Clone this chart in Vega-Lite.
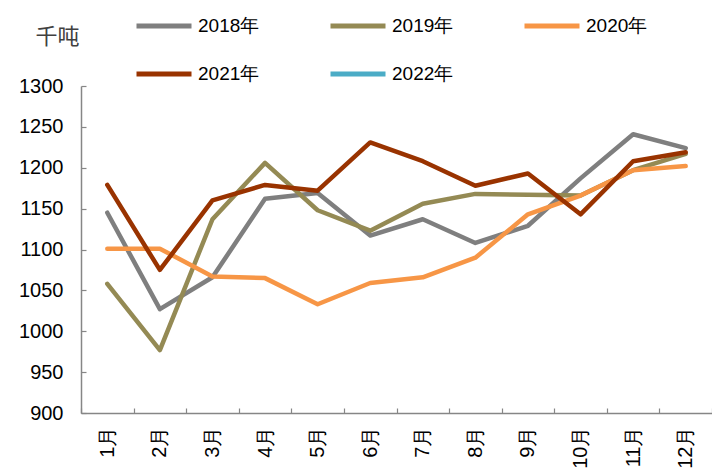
{
  "$schema": "https://vega.github.io/schema/vega-lite/v6.json",
  "width": 631,
  "height": 327,
  "autosize": {"type": "none"},
  "padding": {"left": 81, "top": 86, "right": 0, "bottom": 62},
  "background": "white",
  "config": {
    "view": {"stroke": null},
    "font": "Liberation Sans"
  },
  "data": {
    "values": [
      {"m": "1月", "y": "2018年", "v": 1145},
      {"m": "2月", "y": "2018年", "v": 1027},
      {"m": "3月", "y": "2018年", "v": 1066},
      {"m": "4月", "y": "2018年", "v": 1162},
      {"m": "5月", "y": "2018年", "v": 1169},
      {"m": "6月", "y": "2018年", "v": 1117},
      {"m": "7月", "y": "2018年", "v": 1137},
      {"m": "8月", "y": "2018年", "v": 1108},
      {"m": "9月", "y": "2018年", "v": 1129},
      {"m": "10月", "y": "2018年", "v": 1187},
      {"m": "11月", "y": "2018年", "v": 1241},
      {"m": "12月", "y": "2018年", "v": 1224},
      {"m": "1月", "y": "2019年", "v": 1058},
      {"m": "2月", "y": "2019年", "v": 977},
      {"m": "3月", "y": "2019年", "v": 1137},
      {"m": "4月", "y": "2019年", "v": 1206},
      {"m": "5月", "y": "2019年", "v": 1148},
      {"m": "6月", "y": "2019年", "v": 1123},
      {"m": "7月", "y": "2019年", "v": 1156},
      {"m": "8月", "y": "2019年", "v": 1168},
      {"m": "9月", "y": "2019年", "v": 1167},
      {"m": "10月", "y": "2019年", "v": 1166},
      {"m": "11月", "y": "2019年", "v": 1197},
      {"m": "12月", "y": "2019年", "v": 1217},
      {"m": "1月", "y": "2020年", "v": 1101},
      {"m": "2月", "y": "2020年", "v": 1101},
      {"m": "3月", "y": "2020年", "v": 1067},
      {"m": "4月", "y": "2020年", "v": 1065},
      {"m": "5月", "y": "2020年", "v": 1033},
      {"m": "6月", "y": "2020年", "v": 1059},
      {"m": "7月", "y": "2020年", "v": 1066},
      {"m": "8月", "y": "2020年", "v": 1090},
      {"m": "9月", "y": "2020年", "v": 1143},
      {"m": "10月", "y": "2020年", "v": 1166},
      {"m": "11月", "y": "2020年", "v": 1197},
      {"m": "12月", "y": "2020年", "v": 1202},
      {"m": "1月", "y": "2021年", "v": 1179},
      {"m": "2月", "y": "2021年", "v": 1075},
      {"m": "3月", "y": "2021年", "v": 1160},
      {"m": "4月", "y": "2021年", "v": 1179},
      {"m": "5月", "y": "2021年", "v": 1172},
      {"m": "6月", "y": "2021年", "v": 1231},
      {"m": "7月", "y": "2021年", "v": 1208},
      {"m": "8月", "y": "2021年", "v": 1178},
      {"m": "9月", "y": "2021年", "v": 1193},
      {"m": "10月", "y": "2021年", "v": 1143},
      {"m": "11月", "y": "2021年", "v": 1208},
      {"m": "12月", "y": "2021年", "v": 1219}
    ]
  },
  "mark": {"type": "line", "strokeWidth": 4.5, "strokeJoin": "round", "strokeCap": "round"},
  "encoding": {
    "x": {
      "field": "m",
      "type": "ordinal",
      "sort": ["1月","2月","3月","4月","5月","6月","7月","8月","9月","10月","11月","12月"],
      "scale": {"type": "band", "paddingInner": 0, "paddingOuter": 0},
      "axis": {
        "title": null,
        "tickBand": "extent",
        "labelAngle": -90,
        "labelAlign": "right",
        "labelBaseline": "middle",
        "labelFontSize": 20,
        "labelColor": "#000000",
        "labelPadding": 18,
        "tickSize": -5,
        "tickColor": "#868686",
        "tickWidth": 1.2,
        "domainColor": "#868686",
        "domainWidth": 1.5,
        "grid": false
      }
    },
    "y": {
      "field": "v",
      "type": "quantitative",
      "scale": {"domain": [900, 1300], "nice": false, "zero": false},
      "axis": {
        "values": [900, 950, 1000, 1050, 1100, 1150, 1200, 1250, 1300],
        "format": "d",
        "title": "千吨",
        "titleAngle": 0,
        "titleX": -24,
        "titleY": -50,
        "titleAlign": "center",
        "titleBaseline": "middle",
        "titleFontSize": 22,
        "titleFontWeight": "normal",
        "titleColor": "#404040",
        "titleFont": "Noto Sans CJK SC",
        "labelFontSize": 20,
        "labelColor": "#000000",
        "labelPadding": 23,
        "tickSize": -5,
        "tickColor": "#868686",
        "tickWidth": 1.2,
        "domainColor": "#868686",
        "domainWidth": 1.5,
        "grid": false
      }
    },
    "color": {
      "field": "y",
      "type": "nominal",
      "scale": {
        "domain": ["2018年", "2019年", "2020年", "2021年", "2022年"],
        "range": ["#7F7F7F", "#948A54", "#F79646", "#993300", "#4BACC6"]
      },
      "legend": {
        "title": null,
        "orient": "none",
        "legendX": 53,
        "legendY": -90,
        "direction": "horizontal",
        "columns": 3,
        "symbolType": "stroke",
        "symbolSize": 3025,
        "symbolStrokeWidth": 5,
        "labelFontSize": 19,
        "labelColor": "#000000",
        "labelOffset": 4,
        "columnPadding": 60,
        "rowPadding": 8
      }
    }
  }
}
